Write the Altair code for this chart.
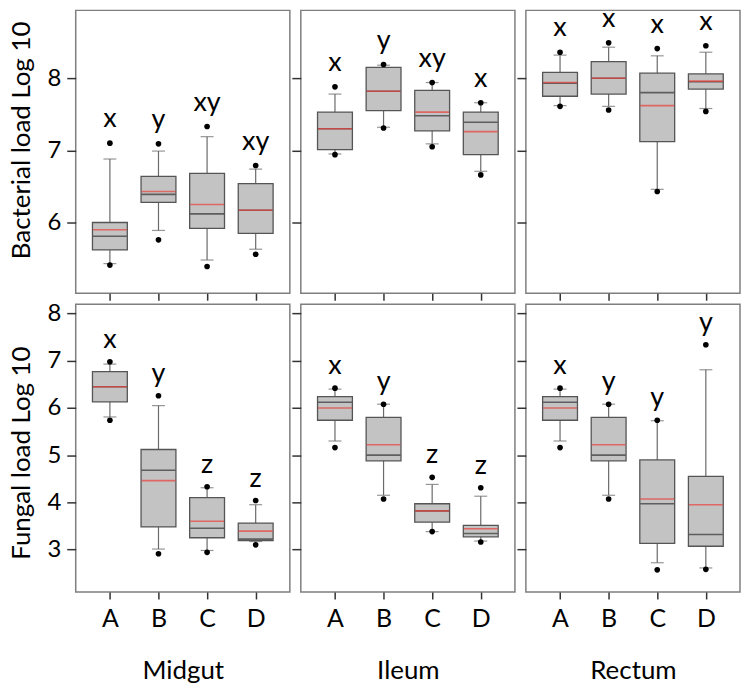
import altair as alt
import pandas as pd

FONT = "Lato"

groups = ["A", "B", "C", "D"]
sites = ["Midgut", "Ileum", "Rectum"]

# ---- Bacterial load (log10) ----
bac_p95 = {"Midgut": [7.10, 7.09, 7.33, 6.79], "Ileum": [7.88, 8.19, 7.94, 7.66], "Rectum": [8.36, 8.49, 8.41, 8.45]}
bac_whi = {"Midgut": [6.88, 6.99, 7.19, 6.74], "Ileum": [7.78, 8.18, 7.94, 7.66], "Rectum": [8.32, 8.43, 8.31, 8.36]}
bac_q3 = {"Midgut": [6.00, 6.64, 6.68, 6.54], "Ileum": [7.53, 8.15, 7.83, 7.53], "Rectum": [8.08, 8.23, 8.07, 8.06]}
bac_mean = {"Midgut": [5.90, 6.43, 6.25, 6.17], "Ileum": [7.30, 7.82, 7.53, 7.26], "Rectum": [7.94, 8.00, 7.62, 7.96]}
bac_med = {"Midgut": [5.81, 6.39, 6.12, 6.17], "Ileum": [7.30, 7.82, 7.48, 7.39], "Rectum": [7.93, 8.00, 7.80, 7.95]}
bac_q1 = {"Midgut": [5.62, 6.28, 5.92, 5.85], "Ileum": [7.01, 7.55, 7.27, 6.94], "Rectum": [7.75, 7.78, 7.12, 7.85]}
bac_wlo = {"Midgut": [5.43, 5.89, 5.48, 5.63], "Ileum": [6.95, 7.32, 7.09, 6.71], "Rectum": [7.62, 7.61, 6.46, 7.58]}
bac_p5 = {"Midgut": [5.41, 5.76, 5.39, 5.56], "Ileum": [6.94, 7.31, 7.05, 6.66], "Rectum": [7.61, 7.56, 6.43, 7.54]}
bac_letters = {"Midgut": ["x", "y", "xy", "xy"], "Ileum": ["x", "y", "xy", "x"], "Rectum": ["x", "x", "x", "x"]}

# ---- Fungal load (log10) ----
fun_p95 = {"Midgut": [6.98, 6.26, 4.33, 4.04], "Ileum": [6.42, 6.08, 4.53, 4.31], "Rectum": [6.42, 6.08, 5.74, 7.34]}
fun_whi = {"Midgut": [6.93, 6.05, 4.31, 3.95], "Ileum": [6.40, 6.08, 4.38, 4.13], "Rectum": [6.40, 6.08, 5.73, 6.81]}
fun_q3 = {"Midgut": [6.77, 5.12, 4.10, 3.56], "Ileum": [6.24, 5.80, 3.97, 3.51], "Rectum": [6.24, 5.80, 4.90, 4.55]}
fun_mean = {"Midgut": [6.45, 4.46, 3.60, 3.39], "Ileum": [6.00, 5.22, 3.82, 3.44], "Rectum": [6.00, 5.22, 4.07, 3.95]}
fun_med = {"Midgut": [6.45, 4.68, 3.45, 3.22], "Ileum": [6.12, 5.00, 3.82, 3.34], "Rectum": [6.12, 5.00, 3.97, 3.32]}
fun_q1 = {"Midgut": [6.13, 3.48, 3.25, 3.19], "Ileum": [5.74, 4.88, 3.58, 3.27], "Rectum": [5.74, 4.88, 3.13, 3.07]}
fun_wlo = {"Midgut": [5.81, 3.01, 2.98, 3.17], "Ileum": [5.30, 4.15, 3.38, 3.18], "Rectum": [5.30, 4.15, 2.72, 2.61]}
fun_p5 = {"Midgut": [5.74, 2.91, 2.94, 3.10], "Ileum": [5.16, 4.07, 3.38, 3.16], "Rectum": [5.16, 4.07, 2.57, 2.58]}
fun_letters = {"Midgut": ["x", "y", "z", "z"], "Ileum": ["x", "y", "z", "z"], "Rectum": ["x", "y", "y", "y"]}

measures = {
    "bac": dict(p95=bac_p95, whi=bac_whi, q3=bac_q3, mean=bac_mean, med=bac_med,
                q1=bac_q1, wlo=bac_wlo, p5=bac_p5, letter=bac_letters),
    "fun": dict(p95=fun_p95, whi=fun_whi, q3=fun_q3, mean=fun_mean, med=fun_med,
                q1=fun_q1, wlo=fun_wlo, p5=fun_p5, letter=fun_letters),
}

rows = []
for m, stats in measures.items():
    for s in sites:
        for i, g in enumerate(groups):
            r = {"measure": m, "site": s, "group": g}
            for k, v in stats.items():
                r[k] = v[s][i]
            rows.append(r)
df = pd.DataFrame(rows)

y_titles = {"bac": "Bacterial load Log 10", "fun": "Fungal load Log 10"}
y_domains = {"bac": [5.02, 8.94], "fun": [2.1, 8.2]}
y_ticks = {"bac": [6, 7, 8], "fun": [3, 4, 5, 6, 7, 8]}
heights = {"bac": 284, "fun": 289}
title_y = {"bac": 130, "fun": 149}
text_dy = {"bac": -16, "fun": -14}

PW = 215


def panel(m, s, col):
    d = df[(df.measure == m) & (df.site == s)]
    bottom = m == "fun"
    left = col == 0
    xaxis = alt.Axis(
        labels=bottom, title=s if bottom else None, ticks=True, tickSize=7,
        labelFontSize=25, labelFont=FONT, labelColor="black", labelPadding=8,
        titleFontSize=26, titleFont=FONT, titleFontWeight="normal", titleColor="black",
        titlePadding=26, labelAngle=0,
    )
    yaxis = alt.Axis(
        values=y_ticks[m], labels=left, title=y_titles[m] if left else None,
        tickSize=9, labelFontSize=24, labelFont=FONT, labelColor="black", labelPadding=6,
        titleFontSize=26, titleFont=FONT, titleFontWeight="normal", titleColor="black",
        titlePadding=12, titleY=title_y[m],
    )
    X = alt.X("group:N", scale=alt.Scale(type="point", padding=0.703, domain=groups), axis=xaxis)

    def Y(f):
        return alt.Y(f + ":Q", scale=alt.Scale(domain=y_domains[m], nice=False, zero=False), axis=yaxis)

    base = alt.Chart(d)
    whisk = base.mark_rule(color="#6a6a6a", strokeWidth=1.2).encode(x=X, y=Y("wlo"), y2="whi")
    cap_hi = base.mark_tick(size=13, thickness=1.2, color="#6a6a6a", orient="horizontal").encode(x=X, y=Y("whi"))
    cap_lo = base.mark_tick(size=13, thickness=1.2, color="#6a6a6a", orient="horizontal").encode(x=X, y=Y("wlo"))
    box = base.mark_bar(size=35, color="#c3c3c3", stroke="#555555", strokeWidth=1.3).encode(x=X, y=Y("q1"), y2="q3")
    med = base.mark_tick(size=34, thickness=1.6, color="#333333", orient="horizontal").encode(x=X, y=Y("med"))
    mean = base.mark_tick(size=34, thickness=1.6, color="#e8413c", orient="horizontal").encode(x=X, y=Y("mean"))
    dot_hi = base.mark_circle(size=32, color="black", opacity=1).encode(x=X, y=Y("p95"))
    dot_lo = base.mark_circle(size=32, color="black", opacity=1).encode(x=X, y=Y("p5"))
    txt = base.mark_text(fontSize=27, font=FONT, color="black", baseline="alphabetic",
                         dy=text_dy[m], clip=True).encode(x=X, y=Y("p95"), text="letter:N")
    return alt.layer(whisk, cap_hi, cap_lo, box, med, mean, dot_hi, dot_lo, txt).properties(
        width=PW, height=heights[m])


panels = [panel(m, s, i) for m in ["bac", "fun"] for i, s in enumerate(sites)]

chart = alt.concat(*panels, columns=3, spacing=11, bounds="flush").properties(
    padding={"left": 0, "top": 0, "right": 0, "bottom": 0}
).configure_view(
    stroke="#7f7f7f", strokeWidth=1.5
).configure_axis(
    domain=False, grid=False, tickColor="#333333", tickWidth=1.5
)

chart.save("out.html", embed_options={"renderer": "svg", "actions": False})
